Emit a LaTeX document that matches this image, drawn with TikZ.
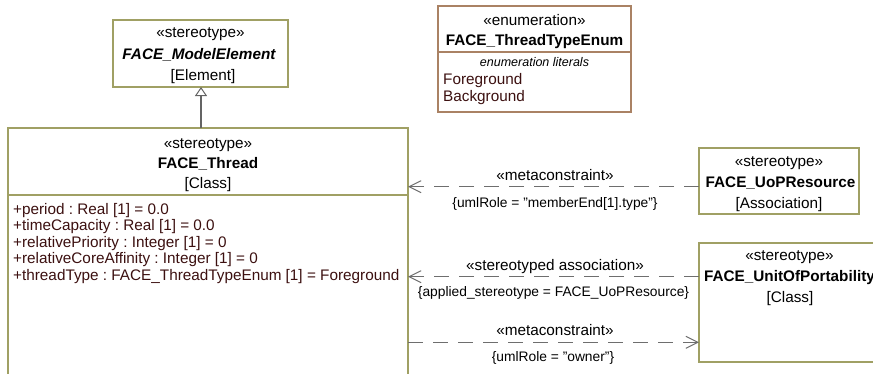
\documentclass[tikz,border=0pt]{standalone}
\usepackage{fontspec}
\setmainfont{Liberation Sans}
\usetikzlibrary{arrows.meta}
\frenchspacing
\definecolor{boxc}{RGB}{160,160,100}
\definecolor{enumc}{RGB}{170,130,100}
\definecolor{attrc}{RGB}{60,16,16}
\definecolor{connc}{RGB}{110,110,110}
\definecolor{genc}{RGB}{100,100,100}
\newcommand{\mainsz}{\fontsize{15.3}{16.5}\selectfont\frenchspacing}
\newcommand{\lblsz}{\fontsize{13.8}{15}\selectfont\frenchspacing}
\newcommand{\litsz}{\fontsize{12.5}{14}\selectfont}
\tikzset{
  umlbox/.style={draw=boxc, line width=1.1pt, fill=white, inner sep=0pt, outer sep=0pt, anchor=north west},
  enumbox/.style={umlbox, draw=enumc},
  txt/.style={inner sep=0pt, anchor=base, font=\mainsz},
  attr/.style={inner sep=0pt, anchor=base west, font=\mainsz, text=attrc},
  conn/.style={draw=connc, line width=1pt, dash pattern=on 15pt off 10pt},
  lbl/.style={inner sep=0pt, anchor=base, font=\lblsz},
  barb/.style={-{Straight Barb[length=12pt,width=12pt,line width=1pt]}},
}
\begin{document}
\begin{tikzpicture}[x=1pt,y=-1pt]
\useasboundingbox (0,0) rectangle (873,373);
\clip (0,0) rectangle (873,373);
% boxes
\node[umlbox, minimum width=175pt, minimum height=67pt] (me) at (113,20) {};
\node[umlbox, minimum width=400pt, minimum height=280pt] (thread) at (8,128) {};
\node[enumbox, minimum width=193pt, minimum height=106pt] (enum) at (438,6) {};
\node[umlbox, minimum width=160pt, minimum height=66pt] (uopres) at (699,148) {};
\node[umlbox, minimum width=181pt, minimum height=119pt] (uop) at (699,243) {};
% separators
\draw[draw=boxc, line width=1.1pt] (8,195) -- (408,195);
\draw[draw=enumc, line width=1.1pt] (438,52) -- (631,52);
% model element text
\node[txt] (me1) at (200.5,37) {«stereotype»};
\node[txt, font=\mainsz\bfseries\itshape] (me2) at (199,59) {FACE\_ModelElement};
\node[txt] (me3) at (203,80.5) {[Element]};
% thread text
\node[txt] (th1) at (208,148.3) {«stereotype»};
\node[txt, font=\mainsz\bfseries] (th2) at (208,168.3) {FACE\_Thread};
\node[txt] (th3) at (208,188.3) {[Class]};
\node[attr] (a1) at (13,214.3) {+period : Real [1] = 0.0};
\node[attr] (a2) at (13,230.8) {+timeCapacity : Real [1] = 0.0};
\node[attr] (a3) at (13,247.3) {+relativePriority : Integer [1] = 0};
\node[attr] (a4) at (13,263.8) {+relativeCoreAffinity : Integer [1] = 0};
\node[attr] (a5) at (13,280.3) {+threadType : FACE\_ThreadTypeEnum [1] = Foreground};
% enum text
\node[txt] (en1) at (534.5,25) {«enumeration»};
\node[txt, font=\mainsz\bfseries] (en2) at (534.5,45) {FACE\_ThreadTypeEnum};
\node[txt, font=\litsz\itshape] (en3) at (534.5,66.7) {enumeration literals};
\node[attr] (en4) at (443,84) {Foreground};
\node[attr] (en5) at (443,101) {Background};
% uop resource text
\node[txt] (ur1) at (779,166) {«stereotype»};
\node[txt, font=\mainsz\bfseries] (ur2) at (780.5,187.7) {FACE\_UoPResource};
\node[txt] (ur3) at (779,208.3) {[Association]};
% unit of portability text
\node[txt] (up1) at (789.5,260.7) {«stereotype»};
\node[txt, font=\mainsz\bfseries] (up2) at (789.5,281.7) {FACE\_UnitOfPortability};
\node[txt] (up3) at (790,302.3) {[Class]};
% generalization
\coordinate (gx) at (201,0);
\draw[draw=genc, line width=1.3pt, -{Triangle[open, length=9pt, width=12pt, line width=1pt, fill=white]}] (thread.north -| gx) -- (me.south -| gx);
% connectors
\coordinate (y1) at (0,186.7);
\coordinate (y2) at (0,276.7);
\coordinate (y3) at (0,342.3);
\draw[conn, barb] (uopres.west |- y1) -- (thread.east |- y1);
\draw[conn, barb] (uop.west |- y2) -- (thread.east |- y2);
\draw[conn, barb] (thread.east |- y3) -- (uop.west |- y3);
% connector labels
\node[txt] (c1a) at (555,180.7) {«metaconstraint»};
\node[lbl] (c1b) at (555,207.3) {\{umlRole = "memberEnd[1].type"\}};
\node[txt] (c2a) at (555,270.7) {«stereotyped association»};
\node[lbl] (c2b) at (553.5,296.7) {\{applied\_stereotype = FACE\_UoPResource\}};
\node[txt] (c3a) at (555,335.7) {«metaconstraint»};
\node[lbl] (c3b) at (553,361.7) {\{umlRole = "owner"\}};
\end{tikzpicture}
\end{document}
